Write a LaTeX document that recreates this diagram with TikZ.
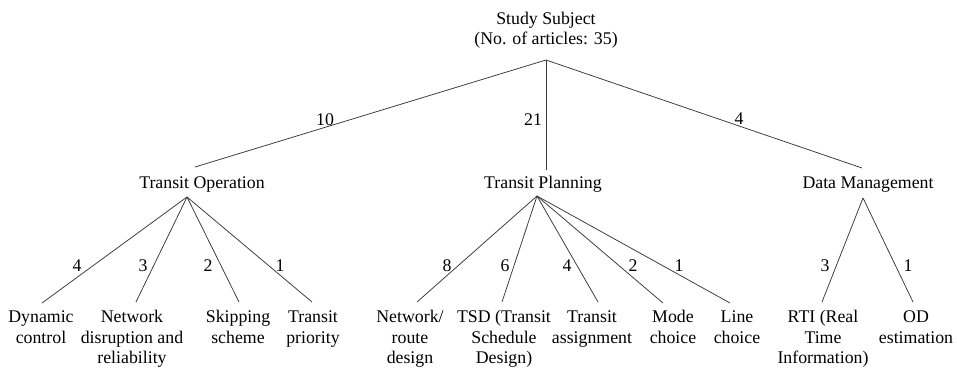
\documentclass[tikz,border=0pt]{standalone}
\usepackage{fontspec}
\setmainfont{Liberation Serif}
\newcommand{\stk}[1]{\begin{tabular}[t]{@{}c@{}}#1\end{tabular}}
\begin{document}
\begin{tikzpicture}[x=1pt,y=-1pt,
  txt/.style={font=\fontsize{17.8}{20.5}\selectfont, inner sep=0pt, anchor=base},
  conn/.style={draw=black!78, line width=0.75pt}]
\useasboundingbox[fill=white] (0,0) rectangle (957,370);
% root
\node[txt] (root) at (546,24) {\stk{Study Subject\\(No. of articles: 35)}};
\coordinate (rootp) at (546,60);
% middle level
\node[txt] (op) at (202,188) {Transit Operation};
\node[txt] (pl) at (543,188) {Transit Planning};
\node[txt] (dm) at (868,188) {Data Management};
\coordinate (opt) at (195,167);
\coordinate (plt) at (546,170);
\coordinate (dmt) at (862,168);
\coordinate (opa) at (187,197);
\coordinate (pla) at (537,196);
\coordinate (dma) at (863,198);
% leaves
\node[txt] (l1) at (41,322.5) {\stk{Dynamic\\control}};
\node[txt] (l2) at (132,322.5) {\stk{Network\\disruption and\\reliability}};
\node[txt] (l3) at (238,322.5) {\stk{Skipping\\scheme}};
\node[txt] (l4) at (313,322.5) {\stk{Transit\\priority}};
\node[txt] (l5) at (410,322.5) {\stk{Network/\\route\\design}};
\node[txt] (l6) at (504,322.5) {\stk{TSD (Transit\\Schedule\\Design)}};
\node[txt] (l7) at (592,322.5) {\stk{Transit\\assignment}};
\node[txt] (l8) at (673,322.5) {\stk{Mode\\choice}};
\node[txt] (l9) at (737,322.5) {\stk{Line\\choice}};
\node[txt] (l10) at (823,322.5) {\stk{RTI (Real\\Time\\Information)}};
\node[txt] (l11) at (916,322.5) {\stk{OD\\estimation}};
\coordinate (t1) at (42,303);
\coordinate (t2) at (136,302);
\coordinate (t3) at (239,302);
\coordinate (t4) at (312,302);
\coordinate (t5) at (417,302);
\coordinate (t6) at (502,302);
\coordinate (t7) at (598,302);
\coordinate (t8) at (663,303);
\coordinate (t9) at (730,303);
\coordinate (t10) at (822,302);
\coordinate (t11) at (913,302);
% connectors
\draw[conn] (rootp) -- (opt);
\draw[conn] (rootp) -- (plt);
\draw[conn] (rootp) -- (dmt);
\foreach \t in {t1,t2,t3,t4} \draw[conn] (opa) -- (\t);
\foreach \t in {t5,t6,t7,t8,t9} \draw[conn] (pla) -- (\t);
\foreach \t in {t10,t11} \draw[conn] (dma) -- (\t);
% labels
\node[txt] (n10) at (325,125) {10};
\node[txt] (n21) at (533,125) {21};
\node[txt] (n4a) at (739,124) {4};
\node[txt] (a1) at (77,271) {4};
\node[txt] (a2) at (143,271) {3};
\node[txt] (a3) at (208,271) {2};
\node[txt] (a4) at (280,271) {1};
\node[txt] (b1) at (447,271) {8};
\node[txt] (b2) at (505,271) {6};
\node[txt] (b3) at (567,271) {4};
\node[txt] (b4) at (633,271) {2};
\node[txt] (b5) at (679,271) {1};
\node[txt] (c1) at (825,271) {3};
\node[txt] (c2) at (908,271) {1};
\end{tikzpicture}
\end{document}
